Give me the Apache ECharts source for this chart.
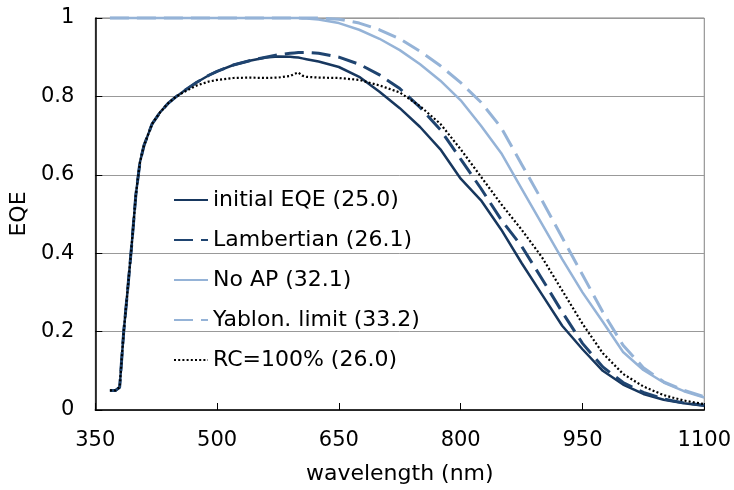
<!DOCTYPE html>
<html>
<head>
<meta charset="utf-8">
<script src="https://cdn.jsdelivr.net/npm/echarts@6/dist/echarts.min.js"></script>
<style>
    html, body { margin: 0; padding: 0; background: #fff; }
    #eqeChart { width: 734px; height: 490px; }
</style>
</head>
<body>
<div id="eqeChart"></div>
<script>
// wavelength (nm) shared by all curves
var wavelength = [368, 375, 380, 385, 390, 395, 400, 405, 410, 420, 430, 440, 450, 460, 475, 490, 500, 520, 540, 560,
    575, 590, 595, 600, 605, 610, 625, 650, 675, 700, 725, 750, 775, 800, 825, 850, 875, 900, 925, 950,
    975, 1000, 1025, 1050, 1075, 1100];

var initialEQE = [0.05, 0.05, 0.058, 0.2, 0.31, 0.425, 0.55, 0.632, 0.675, 0.73, 0.76, 0.783, 0.80, 0.815, 0.836, 0.854, 0.864, 0.88, 0.891, 0.899,
    0.902, 0.901, 0.9, 0.899, 0.897, 0.895, 0.889, 0.875, 0.85, 0.812, 0.77, 0.722, 0.665, 0.59, 0.535, 0.46, 0.375, 0.295, 0.215, 0.155,
    0.10, 0.065, 0.041, 0.026, 0.017, 0.011];

var lambertian = [0.05, 0.05, 0.058, 0.2, 0.31, 0.425, 0.55, 0.632, 0.675, 0.73, 0.76, 0.783, 0.80, 0.815, 0.836, 0.854, 0.864, 0.88, 0.891, 0.90,
    0.906, 0.91, 0.911, 0.912, 0.912, 0.912, 0.91, 0.90, 0.882, 0.855, 0.82, 0.772, 0.715, 0.64, 0.565, 0.485, 0.418, 0.335, 0.25, 0.17,
    0.11, 0.07, 0.045, 0.028, 0.018, 0.012];

var noAP = [1, 1, 1, 1, 1, 1, 1, 1, 1, 1, 1, 1, 1, 1, 1, 1, 1, 1, 1, 1,
    1, 1, 1, 1, 0.999, 0.999, 0.996, 0.987, 0.97, 0.947, 0.918, 0.882, 0.84, 0.79, 0.725, 0.655, 0.565, 0.475, 0.385, 0.30,
    0.225, 0.148, 0.102, 0.07, 0.048, 0.032];

var yablonLimit = [1, 1, 1, 1, 1, 1, 1, 1, 1, 1, 1, 1, 1, 1, 1, 1, 1, 1, 1, 1,
    1, 1, 1, 1, 1, 1, 1, 0.997, 0.987, 0.97, 0.947, 0.915, 0.878, 0.835, 0.785, 0.72, 0.627, 0.535, 0.44, 0.345,
    0.25, 0.165, 0.108, 0.072, 0.05, 0.034];

var rc100 = [0.05, 0.05, 0.058, 0.2, 0.31, 0.425, 0.55, 0.632, 0.675, 0.73, 0.76, 0.783, 0.80, 0.812, 0.828, 0.838, 0.842, 0.847, 0.848, 0.847,
    0.848, 0.852, 0.857, 0.861, 0.853, 0.85, 0.848, 0.847, 0.842, 0.828, 0.81, 0.775, 0.73, 0.665, 0.595, 0.525, 0.46, 0.39, 0.305, 0.22,
    0.145, 0.092, 0.06, 0.038, 0.024, 0.015];

var seriesNames = ['initial EQE (25.0)', 'Lambertian (26.1)', 'No AP (32.1)', 'Yablon. limit (33.2)', 'RC=100% (26.0)'];

var fontName = 'DejaVu Sans';

function pairs(vals) {
    return wavelength.map(function (w, i) {
        return [w, vals[i]];
    });
}

function curve(name, vals, color, width, dash) {
    return {
        name: name,
        type: 'line',
        smooth: false,
        symbol: 'none',
        clip: false,
        lineStyle: {
            color: color,
            width: width,
            type: dash,
            join: 'round'
        },
        itemStyle: { color: color },
        data: pairs(vals)
    };
}

var eqeChart = echarts.init(document.getElementById('eqeChart'));
var eqeOption = {
    backgroundColor: '#fff',
    animation: false,
    grid: {
        left: 93,
        right: 27,
        top: 18,
        bottom: 77,
        show: true,
        borderColor: '#808080',
        borderWidth: 1
    },
    legend: {
        orient: 'vertical',
        left: 168,
        top: 184,
        itemWidth: 34,
        itemHeight: 14,
        itemGap: 18,
        data: seriesNames,
        // hide the symbol, keep only the line sample
        itemStyle: { color: 'rgba(0,0,0,0)', borderColor: 'rgba(0,0,0,0)', borderWidth: 0 },
        textStyle: {
            fontFamily: fontName,
            fontSize: 22,
            color: '#000'
        }
    },
    xAxis: {
        type: 'value',
        min: 350,
        max: 1100,
        interval: 150,
        name: 'wavelength (nm)',
        nameLocation: 'middle',
        nameGap: 53,
        nameTextStyle: { fontFamily: fontName, fontSize: 22, color: '#000' },
        axisLine: { lineStyle: { color: '#000', width: 1.5 } },
        axisTick: { inside: true, length: 7, lineStyle: { color: '#000' } },
        axisLabel: {
            margin: 20,
            fontFamily: fontName,
            fontSize: 21,
            color: '#000',
            formatter: function (v) { return String(v); }
        },
        splitLine: { show: false }
    },
    yAxis: {
        type: 'value',
        min: 0,
        max: 1,
        interval: 0.2,
        name: 'EQE',
        nameLocation: 'middle',
        nameRotate: 90,
        nameGap: 57,
        nameTextStyle: { fontFamily: fontName, fontSize: 22, color: '#000' },
        axisLine: { show: true, lineStyle: { color: '#000', width: 1.5 } },
        axisTick: { show: true, inside: true, length: 7, lineStyle: { color: '#000' } },
        axisLabel: { margin: 21, fontFamily: fontName, fontSize: 21, color: '#000' },
        splitLine: { lineStyle: { color: '#999', width: 1 } }
    },
    series: [
        curve(seriesNames[0], initialEQE, '#17375E', 2.5, 'solid'),
        curve(seriesNames[1], lambertian, '#1F4470', 3, [19, 8]),
        curve(seriesNames[2], noAP, '#95B3D7', 2.5, 'solid'),
        curve(seriesNames[3], yablonLimit, '#95B3D7', 3, [19, 8]),
        curve(seriesNames[4], rc100, '#000000', 2.2, [2, 2.2])
    ]
};
eqeChart.setOption(eqeOption);
</script>
</body>
</html>
